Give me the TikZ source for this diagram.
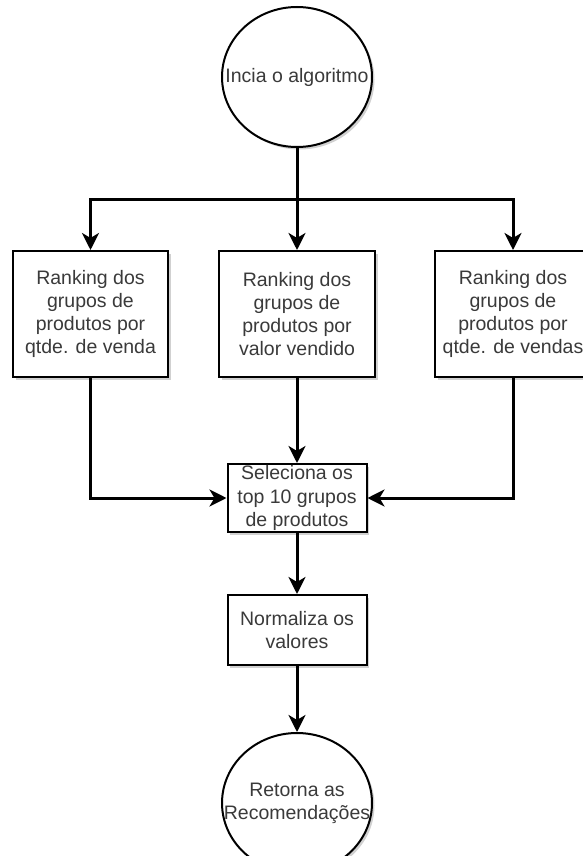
\documentclass[tikz,border=0pt]{standalone}
\usepackage{fontspec}
\setmainfont{Liberation Sans}
\usetikzlibrary{arrows.meta,shapes.geometric,shadows}
\definecolor{txtgray}{HTML}{3A3A3A}
\begin{document}
\begin{tikzpicture}[x=1pt,y=-1pt,
  txt/.style={font=\fontsize{19.5}{23.3}\selectfont, text=txtgray, align=center},
  boxshadow/.style={drop shadow={shadow xshift=2.5pt, shadow yshift=-2.5pt, fill=black!30, opacity=0.6}},
  stepbox/.style={draw, line width=2pt, fill=white, rectangle, inner sep=0pt, txt, boxshadow},
  terminal/.style={draw, line width=2pt, fill=white, ellipse, inner sep=0pt,
    minimum width=150pt, minimum height=140pt, boxshadow},
  conn/.style={line width=3pt},
  arr/.style={conn, -{Stealth[length=17pt,width=17pt,inset=5pt]}}
]
\useasboundingbox (0,0) rectangle (582,856);

% terminals
\node[terminal, label={[txt]center:Incia o algoritmo}] (start) at (297,77) {};
\node[terminal, label={[txt]center:Retorna as\\Recomendações}] (finish) at (297,803) {};

% ranking steps
\node[stepbox, minimum width=155pt, minimum height=126pt] (r1) at (90.5,314)
  {Ranking dos\\grupos de\\produtos por\\qtde. de venda};
\node[stepbox, minimum width=156pt, minimum height=126pt] (r2) at (297,314)
  {Ranking dos\\grupos de\\produtos por\\valor vendido};
\node[stepbox, minimum width=156pt, minimum height=126pt] (r3) at (513,314)
  {Ranking dos\\grupos de\\produtos por\\qtde. de vendas};

% selection and normalisation
\node[stepbox, minimum width=139pt, minimum height=68pt] (sel) at (297,498)
  {Seleciona os\\top 10 grupos\\de produtos};
\node[stepbox, minimum width=139pt, minimum height=70pt] (norm) at (297,630)
  {Normaliza os\\valores};

% fan-out from the start
\coordinate (split) at (297,199);
\draw[conn] (start.south) -- (split);
\draw[arr] (split) -| (r1.north);
\draw[arr] (split) -| (r3.north);
\draw[arr] (split) -- (r2.north);

% merge into the selection step
\draw[arr] (r1.south) |- (sel.west);
\draw[arr] (r3.south) |- (sel.east);
\draw[arr] (r2.south) -- (sel.north);

% remaining chain
\draw[arr] (sel.south) -- (norm.north);
\draw[arr] (norm.south) -- (finish.north);
\end{tikzpicture}
\end{document}
